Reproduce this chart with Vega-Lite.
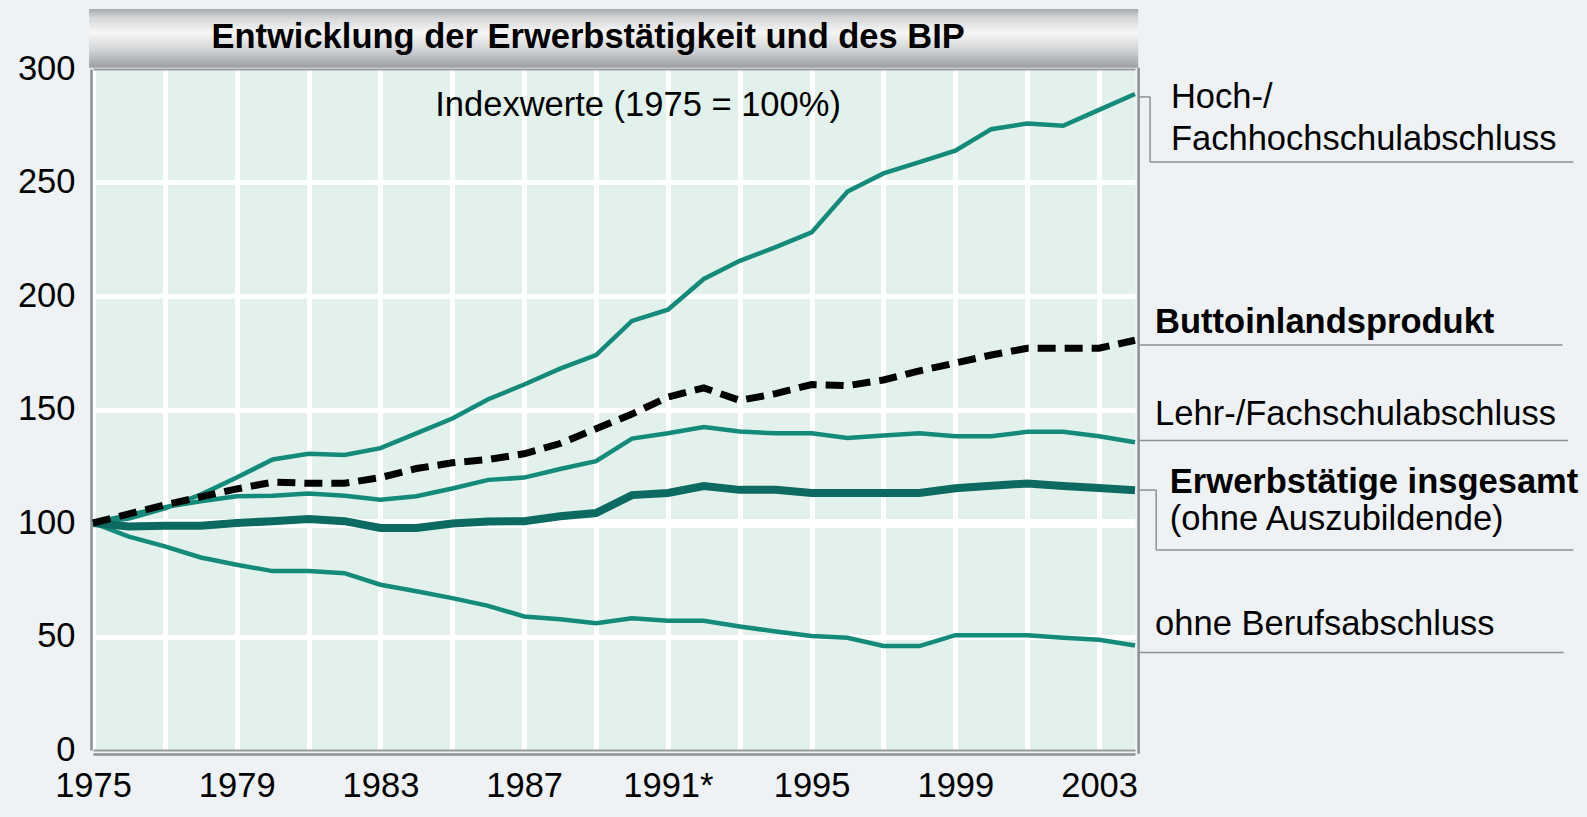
{
  "$schema": "https://vega.github.io/schema/vega-lite/v6.json",
  "width": 1042,
  "height": 681,
  "autosize": {"type": "none"},
  "padding": {"left": 93, "top": 69, "right": 452, "bottom": 67},
  "background": "#eef2f4",
  "config": {
    "view": {"fill": "#e2f1ec", "stroke": null},
    "font": "Liberation Sans",
    "text": {"font": "Liberation Sans", "fontSize": 34.5, "color": "#000000", "align": "left", "baseline": "alphabetic"},
    "rule": {"color": "#8d9093", "strokeWidth": 1.5}
  },
  "data": {
    "values": [
      {"year": 1975, "hoch": 100, "bip": 100, "lehr": 100, "erw": 100, "ohne": 100},
      {"year": 1976, "hoch": 102, "bip": 104, "lehr": 103.5, "erw": 98.5, "ohne": 94},
      {"year": 1977, "hoch": 106.5, "bip": 108, "lehr": 107, "erw": 98.8, "ohne": 89.7},
      {"year": 1978, "hoch": 112.5, "bip": 111.5, "lehr": 109.6, "erw": 98.8, "ohne": 84.8},
      {"year": 1979, "hoch": 120, "bip": 115, "lehr": 111.8, "erw": 100, "ohne": 81.6},
      {"year": 1980, "hoch": 128, "bip": 118, "lehr": 112, "erw": 100.8, "ohne": 78.8},
      {"year": 1981, "hoch": 130.5, "bip": 117.5, "lehr": 113, "erw": 101.8, "ohne": 78.8},
      {"year": 1982, "hoch": 130, "bip": 117.5, "lehr": 112, "erw": 100.8, "ohne": 77.9},
      {"year": 1983, "hoch": 133, "bip": 120, "lehr": 110.3, "erw": 97.8, "ohne": 72.8},
      {"year": 1984, "hoch": 139.5, "bip": 124, "lehr": 111.8, "erw": 97.8, "ohne": 69.9},
      {"year": 1985, "hoch": 146, "bip": 126.5, "lehr": 115.2, "erw": 99.8, "ohne": 66.9},
      {"year": 1986, "hoch": 154.5, "bip": 128, "lehr": 119, "erw": 100.7, "ohne": 63.5},
      {"year": 1987, "hoch": 161, "bip": 130.5, "lehr": 120, "erw": 100.8, "ohne": 58.8},
      {"year": 1988, "hoch": 168, "bip": 135, "lehr": 123.8, "erw": 103, "ohne": 57.6},
      {"year": 1989, "hoch": 174, "bip": 141.5, "lehr": 127.2, "erw": 104.4, "ohne": 55.8},
      {"year": 1990, "hoch": 189, "bip": 148, "lehr": 137.2, "erw": 112.3, "ohne": 58},
      {"year": 1991, "hoch": 194, "bip": 155.5, "lehr": 139.5, "erw": 113.2, "ohne": 56.9},
      {"year": 1992, "hoch": 207.5, "bip": 159.5, "lehr": 142.3, "erw": 116.3, "ohne": 56.9},
      {"year": 1993, "hoch": 215.5, "bip": 154, "lehr": 140.3, "erw": 114.6, "ohne": 54.4},
      {"year": 1994, "hoch": 221.5, "bip": 157, "lehr": 139.5, "erw": 114.6, "ohne": 52.2},
      {"year": 1995, "hoch": 228, "bip": 161, "lehr": 139.5, "erw": 113.2, "ohne": 50.2},
      {"year": 1996, "hoch": 246, "bip": 160.5, "lehr": 137.5, "erw": 113.2, "ohne": 49.4},
      {"year": 1997, "hoch": 254, "bip": 163, "lehr": 138.5, "erw": 113.2, "ohne": 45.8},
      {"year": 1998, "hoch": 259, "bip": 167, "lehr": 139.5, "erw": 113.2, "ohne": 45.8},
      {"year": 1999, "hoch": 264, "bip": 170.5, "lehr": 138.2, "erw": 115.3, "ohne": 50.6},
      {"year": 2000, "hoch": 273.5, "bip": 174, "lehr": 138.2, "erw": 116.4, "ohne": 50.6},
      {"year": 2001, "hoch": 276, "bip": 177, "lehr": 140.2, "erw": 117.4, "ohne": 50.6},
      {"year": 2002, "hoch": 275, "bip": 177, "lehr": 140.2, "erw": 116.3, "ohne": 49.5},
      {"year": 2003, "hoch": 282, "bip": 177, "lehr": 138.2, "erw": 115.4, "ohne": 48.6},
      {"year": 2004, "hoch": 289, "bip": 180.5, "lehr": 135.6, "erw": 114.4, "ohne": 46}
    ]
  },
  "layer": [
    {
      "mark": {"type": "line", "color": "#148a7b", "strokeWidth": 4.5},
      "encoding": {
        "x": {
          "field": "year", "type": "quantitative",
          "scale": {"domain": [1975, 2004], "nice": false, "zero": false},
          "axis": {
            "values": [1975, 1977, 1979, 1981, 1983, 1985, 1987, 1989, 1991, 1993, 1995, 1997, 1999, 2001, 2003],
            "labelExpr": "(datum.value - 1975) % 4 == 0 ? (datum.value == 1991 ? '1991*' : '' + datum.value) : ''",
            "title": null,
            "grid": true, "gridColor": "#ffffff", "gridWidth": 5,
            "domain": true, "domainColor": "#8d9093", "domainWidth": 2.5,
            "offset": 4, "ticks": false, "tickSize": 0,
            "labelPadding": 15, "labelFontSize": 34.5, "labelColor": "#000000",
            "labelFont": "Liberation Sans", "labelFlush": false, "labelOverlap": false
          }
        },
        "y": {
          "field": "hoch", "type": "quantitative",
          "scale": {"domain": [0, 300], "nice": false, "zero": true},
          "axis": {
            "values": [0, 50, 100, 150, 200, 250, 300],
            "title": null,
            "grid": true,
            "gridColor": {"condition": {"test": "datum.value === 0 || datum.value === 300", "value": "#9a9da0"}, "value": "#ffffff"},
            "gridWidth": {"condition": [{"test": "datum.value === 100", "value": 9}, {"test": "datum.value === 0 || datum.value === 300", "value": 2}], "value": 5},
            "domain": true, "domainColor": "#8d9093", "domainWidth": 2.5,
            "offset": 2, "ticks": false, "tickSize": 0,
            "labelPadding": 16, "labelFontSize": 34.5, "labelColor": "#000000",
            "labelFont": "Liberation Sans", "labelFlush": false, "labelOverlap": false
          }
        }
      }
    },
    {
      "mark": {"type": "line", "color": "#148a7b", "strokeWidth": 4.5},
      "encoding": {
        "x": {"field": "year", "type": "quantitative"},
        "y": {"field": "lehr", "type": "quantitative"}
      }
    },
    {
      "mark": {"type": "line", "color": "#148a7b", "strokeWidth": 4.5},
      "encoding": {
        "x": {"field": "year", "type": "quantitative"},
        "y": {"field": "ohne", "type": "quantitative"}
      }
    },
    {
      "mark": {"type": "line", "color": "#0c6a61", "strokeWidth": 8},
      "encoding": {
        "x": {"field": "year", "type": "quantitative"},
        "y": {"field": "erw", "type": "quantitative"}
      }
    },
    {
      "mark": {"type": "line", "color": "#000000", "strokeWidth": 7, "strokeDash": [18, 9], "strokeCap": "butt"},
      "encoding": {
        "x": {"field": "year", "type": "quantitative"},
        "y": {"field": "bip", "type": "quantitative"}
      }
    },
    {
      "data": {"values": [{}]},
      "layer": [
        {
          "mark": {"type": "rect", "color": {"gradient": "linear", "x1": 0, "y1": 0, "x2": 0, "y2": 1, "stops": [{"offset": 0, "color": "#a9acaf"}, {"offset": 0.15, "color": "#d4d6d8"}, {"offset": 0.4, "color": "#f7f7f7"}, {"offset": 0.7, "color": "#d0d2d4"}, {"offset": 1, "color": "#9a9ea2"}]}},
          "encoding": {
            "x": {"datum": 1974.89, "type": "quantitative"},
            "x2": {"datum": 2004.09},
            "y": {"datum": 326.4, "type": "quantitative"},
            "y2": {"datum": 300.5}
          }
        },
        {
          "mark": {"type": "text", "text": "Entwicklung der Erwerbstätigkeit und des BIP", "fontWeight": "bold", "align": "center"},
          "encoding": {"x": {"datum": 1988.78, "type": "quantitative"}, "y": {"datum": 309.3, "type": "quantitative"}}
        },
        {
          "mark": {"type": "text", "text": "Indexwerte (1975 = 100%)", "align": "center"},
          "encoding": {"x": {"datum": 1990.17, "type": "quantitative"}, "y": {"datum": 279.1, "type": "quantitative"}}
        },
        {
          "mark": {"type": "rule", "color": "#8d9093", "strokeWidth": 2.5},
          "encoding": {"x": {"datum": 2004.1, "type": "quantitative"}, "y": {"datum": -1.6, "type": "quantitative"}, "y2": {"datum": 300.5}}
        },
        {"mark": "rule", "encoding": {"x": {"datum": 2004.1, "type": "quantitative"}, "x2": {"datum": 2004.42}, "y": {"datum": 287.7, "type": "quantitative"}}},
        {"mark": "rule", "encoding": {"x": {"datum": 2004.42, "type": "quantitative"}, "y": {"datum": 287.7, "type": "quantitative"}, "y2": {"datum": 259}}},
        {"mark": "rule", "encoding": {"x": {"datum": 2004.42, "type": "quantitative"}, "x2": {"datum": 2016.2}, "y": {"datum": 259, "type": "quantitative"}}},
        {"mark": "rule", "encoding": {"x": {"datum": 2004.1, "type": "quantitative"}, "x2": {"datum": 2015.9}, "y": {"datum": 178.4, "type": "quantitative"}}},
        {"mark": "rule", "encoding": {"x": {"datum": 2004.1, "type": "quantitative"}, "x2": {"datum": 2016.05}, "y": {"datum": 136.3, "type": "quantitative"}}},
        {"mark": "rule", "encoding": {"x": {"datum": 2004.1, "type": "quantitative"}, "x2": {"datum": 2004.59}, "y": {"datum": 114.5, "type": "quantitative"}}},
        {"mark": "rule", "encoding": {"x": {"datum": 2004.59, "type": "quantitative"}, "y": {"datum": 114.5, "type": "quantitative"}, "y2": {"datum": 88.1}}},
        {"mark": "rule", "encoding": {"x": {"datum": 2004.59, "type": "quantitative"}, "x2": {"datum": 2016.2}, "y": {"datum": 88.1, "type": "quantitative"}}},
        {"mark": "rule", "encoding": {"x": {"datum": 2004.1, "type": "quantitative"}, "x2": {"datum": 2015.93}, "y": {"datum": 43, "type": "quantitative"}}},
        {
          "mark": {"type": "text", "text": "Hoch-/"},
          "encoding": {"x": {"datum": 2005.0, "type": "quantitative"}, "y": {"datum": 282.8, "type": "quantitative"}}
        },
        {
          "mark": {"type": "text", "text": "Fachhochschulabschluss"},
          "encoding": {"x": {"datum": 2005.0, "type": "quantitative"}, "y": {"datum": 264.3, "type": "quantitative"}}
        },
        {
          "mark": {"type": "text", "text": "Buttoinlandsprodukt", "fontWeight": "bold"},
          "encoding": {"x": {"datum": 2004.56, "type": "quantitative"}, "y": {"datum": 183.7, "type": "quantitative"}}
        },
        {
          "mark": {"type": "text", "text": "Lehr-/Fachschulabschluss"},
          "encoding": {"x": {"datum": 2004.56, "type": "quantitative"}, "y": {"datum": 143.2, "type": "quantitative"}}
        },
        {
          "mark": {"type": "text", "text": "Erwerbstätige insgesamt", "fontWeight": "bold"},
          "encoding": {"x": {"datum": 2004.97, "type": "quantitative"}, "y": {"datum": 113.2, "type": "quantitative"}}
        },
        {
          "mark": {"type": "text", "text": "(ohne Auszubildende)"},
          "encoding": {"x": {"datum": 2004.97, "type": "quantitative"}, "y": {"datum": 96.9, "type": "quantitative"}}
        },
        {
          "mark": {"type": "text", "text": "ohne Berufsabschluss"},
          "encoding": {"x": {"datum": 2004.56, "type": "quantitative"}, "y": {"datum": 50.7, "type": "quantitative"}}
        }
      ]
    }
  ]
}
